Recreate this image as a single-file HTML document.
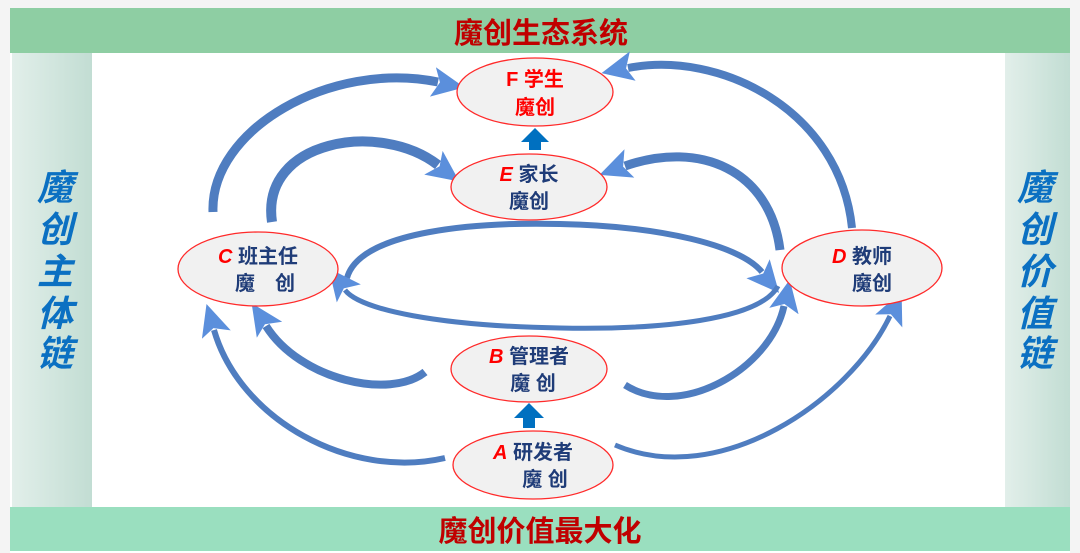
<!DOCTYPE html>
<html><head><meta charset="utf-8"><style>
body{margin:0;width:1080px;height:553px;background:#fff;overflow:hidden;font-family:"Liberation Sans","Noto Sans CJK SC",sans-serif}
svg{position:absolute;left:0;top:0}
</style></head><body>
<svg width="1080" height="553" viewBox="0 0 1080 553" font-family="Liberation Sans, Noto Sans CJK SC, sans-serif">
<defs>
<linearGradient id="side" x1="0" x2="1"><stop offset="0" stop-color="#e2efea"/><stop offset="1" stop-color="#c2ddd3"/></linearGradient>
<marker id="ah" markerUnits="userSpaceOnUse" markerWidth="40" markerHeight="40" refX="5" refY="16" orient="auto">
<path d="M0,2 L32,16 L0,32 L7,16 Z" fill="#5b8fdc"/></marker>
</defs>
<rect x="0" y="0" width="1080" height="553" fill="#f4f4f4"/>
<rect x="10" y="8" width="1060" height="545" fill="#fff"/>
<rect x="10" y="8" width="1060" height="45" fill="#8ecea3"/>
<rect x="10" y="507" width="1060" height="44" fill="#9adfbf"/>
<rect x="12" y="53" width="80" height="454" fill="url(#side)"/>
<rect x="1005" y="53" width="65" height="454" fill="url(#side)"/>
<text x="541" y="43" text-anchor="middle" font-size="29" font-weight="bold" fill="#c00000">魔创生态系统</text>
<text x="540" y="541" text-anchor="middle" font-size="29" font-weight="bold" fill="#c00000">魔创价值最大化</text>
<g font-size="36" font-weight="bold" font-style="italic" fill="#0b70c2" text-anchor="middle">
<text x="55" y="200">魔</text><text x="55" y="242">创</text><text x="55" y="284">主</text><text x="55" y="326">体</text><text x="55" y="366">链</text>
<text x="1035" y="200">魔</text><text x="1035" y="242">创</text><text x="1035" y="284">价</text><text x="1035" y="326">值</text><text x="1035" y="366">链</text>
</g>
<g fill="none" stroke="#4f7dc0" stroke-linecap="butt" marker-end="url(#ah)">
<path d="M213,212 C210,130 330,60 438,82" stroke-width="9"/>
<path d="M272,222 C260,140 380,120 438,165" stroke-width="10"/>
<path d="M852,228 C840,110 720,50 628,68" stroke-width="8"/>
<path d="M780,250 C770,170 700,140 625,166" stroke-width="9"/>
<path d="M347,278 C360,230 480,222 560,224 C660,226 740,245 762,272" stroke-width="6"/>
<path d="M778,286 C760,320 660,330 560,328 C440,326 360,310 345,290" stroke-width="5"/>
<path d="M425,372 C390,400 300,380 266,326" stroke-width="8"/>
<path d="M445,458 C350,480 240,420 214,330" stroke-width="6"/>
<path d="M625,385 C680,420 770,370 784,306" stroke-width="7"/>
<path d="M615,445 C720,490 850,400 890,316" stroke-width="5"/>
</g>
<path d="M529,150 V142 H521 L535,128 L549,142 H541 V150 Z" fill="#0070c0"/>
<path d="M523,428 V418 H514 L529,403 L544,418 H535 V428 Z" fill="#0070c0"/>
<g fill="#f1f1f1" stroke="#ff2a2a" stroke-width="1.3">
<ellipse cx="535" cy="92" rx="78" ry="34"/>
<ellipse cx="529" cy="187" rx="78" ry="33"/>
<ellipse cx="258" cy="269" rx="80" ry="37"/>
<ellipse cx="862" cy="268" rx="80" ry="38"/>
<ellipse cx="529" cy="369" rx="78" ry="33"/>
<ellipse cx="533" cy="465" rx="80" ry="34"/>
</g>
<g font-size="20" font-weight="bold" text-anchor="middle" fill="#1f3c78">
<text x="535" y="86" fill="#ff0000">F 学生</text><text x="535" y="114" fill="#ff0000">魔创</text>
<text x="529" y="181"><tspan fill="#ff0000" font-style="italic">E</tspan> 家长</text><text x="529" y="208">魔创</text>
<text x="258" y="263"><tspan fill="#ff0000" font-style="italic">C</tspan> 班主任</text><text x="265" y="290">魔　创</text>
<text x="862" y="263"><tspan fill="#ff0000" font-style="italic">D</tspan> 教师</text><text x="872" y="290">魔创</text>
<text x="529" y="363"><tspan fill="#ff0000" font-style="italic">B</tspan> 管理者</text><text x="533" y="390">魔 创</text>
<text x="533" y="459"><tspan fill="#ff0000" font-style="italic">A</tspan>  研发者</text><text x="545" y="486">魔 创</text>
</g>
</svg>
</body></html>
